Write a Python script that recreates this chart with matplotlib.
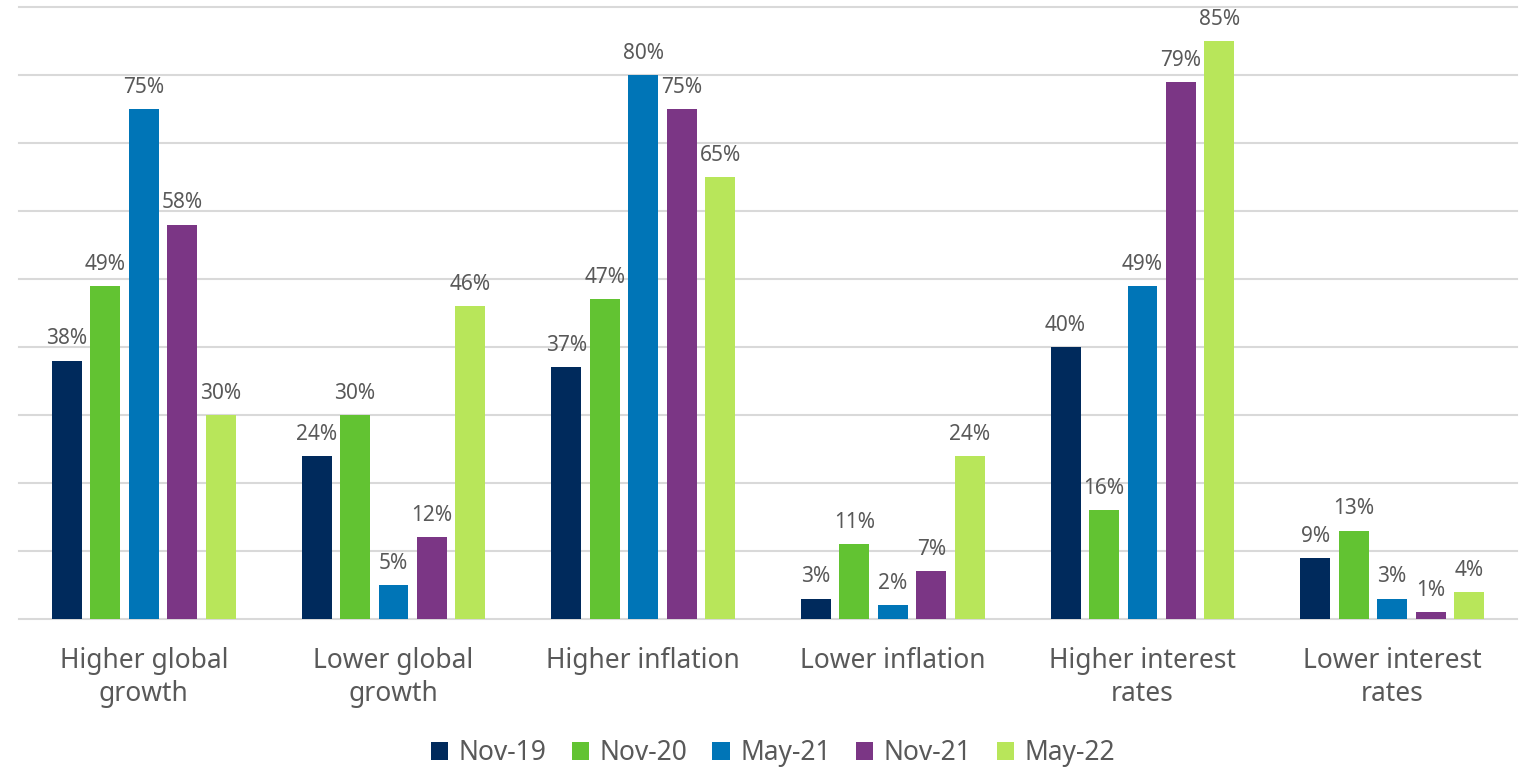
import matplotlib
matplotlib.use("Agg")
import matplotlib.pyplot as plt
import numpy as np

plt.rcParams['font.family'] = ['Noto Sans', 'DejaVu Sans']

categories = ['Higher global\ngrowth', 'Lower global\ngrowth', 'Higher inflation',
              'Lower inflation', 'Higher interest\nrates', 'Lower interest\nrates']
periods = ['Nov-19', 'Nov-20', 'May-21', 'Nov-21', 'May-22']
nov19 = [38, 24, 37, 3, 40, 9]
nov20 = [49, 30, 47, 11, 16, 13]
may21 = [75, 5, 80, 2, 49, 3]
nov21 = [58, 12, 75, 7, 79, 1]
may22 = [30, 46, 65, 24, 85, 4]

series = [nov19, nov20, may21, nov21, may22]
colors = ['#002A5C', '#62C332', '#0075B7', '#7B3685', '#B8E65A']
text_color = '#595959'
grid_color = '#D9D9D9'

fig = plt.figure(figsize=(15.22, 7.67), dpi=100)
ax = fig.add_axes([19 / 1522, 148 / 767, 1498 / 1522, 612 / 767])

x = np.arange(len(categories))
pitch = 0.154
width = 0.12

for i, (vals, c, name) in enumerate(zip(series, colors, periods)):
    pos = x + (i - 2) * pitch
    bars = ax.bar(pos, vals, width=width, color=c, label=name, zorder=3)
    ax.bar_label(bars, labels=[f'{v}%' for v in vals], padding=8,
                 fontsize=15, color=text_color)

# light horizontal gridlines every 10%
for yv in range(0, 100, 10):
    ax.axhline(yv, color=grid_color, lw=1.5, zorder=1, clip_on=False)

ax.set_xlim(-0.5, len(categories) - 0.5)
ax.set_ylim(0, 90)
ax.set_yticks([])
ax.set_xticks(x)
ax.set_xticklabels(categories, fontsize=19, color=text_color, linespacing=1.25)
ax.tick_params(axis='x', length=0, pad=20)
for s in ax.spines.values():
    s.set_visible(False)

leg = fig.legend(loc='center', bbox_to_anchor=(773 / 1522, 14 / 767), ncol=5,
                 frameon=False, fontsize=19, handlelength=0.65, handleheight=0.65,
                 handletextpad=0.4, columnspacing=0.95, labelcolor=text_color)

fig.savefig('out.png', dpi=100)
